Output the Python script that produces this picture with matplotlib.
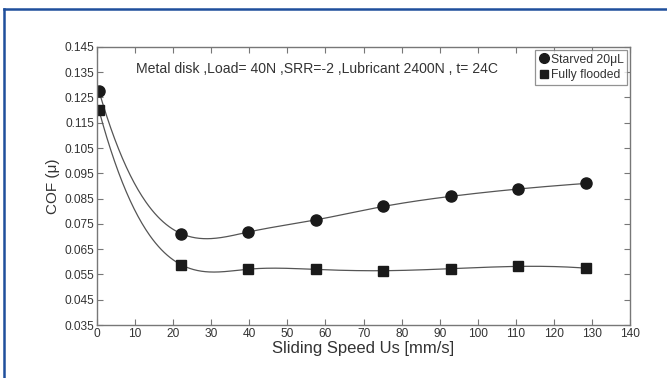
import numpy as np
import matplotlib
matplotlib.use("Agg")
import matplotlib.pyplot as plt
from matplotlib.lines import Line2D

plt.rcParams['font.family'] = ['Liberation Sans', 'DejaVu Sans']

speed = [0.6, 22.1, 39.8, 57.5, 75.2, 92.9, 110.6, 128.3]
cof_starved = [0.1275, 0.0712, 0.0718, 0.0766, 0.0819, 0.0859, 0.0888, 0.0910]
cof_flooded = [0.1199, 0.0589, 0.0571, 0.0570, 0.0565, 0.0573, 0.0582, 0.0575]
xticks = list(range(0, 141, 10))
yticks = [0.035, 0.045, 0.055, 0.065, 0.075, 0.085, 0.095, 0.105, 0.115, 0.125, 0.135, 0.145]
label_starved = "Starved 20μL"
label_flooded = "Fully flooded"
annotation = "Metal disk ,Load= 40N ,SRR=-2 ,Lubricant 2400N , t= 24C"


def spline_nak(x, y, xs):
    """Cubic spline with not-a-knot end conditions (MATLAB 'spline')."""
    x = np.asarray(x, float); y = np.asarray(y, float)
    n = len(x); h = np.diff(x)
    A = np.zeros((n, n)); b = np.zeros(n)
    for i in range(1, n - 1):
        A[i, i - 1] = h[i - 1]; A[i, i] = 2 * (h[i - 1] + h[i]); A[i, i + 1] = h[i]
        b[i] = 3 * ((y[i + 1] - y[i]) / h[i] - (y[i] - y[i - 1]) / h[i - 1])
    A[0, 0] = h[1]; A[0, 1] = -(h[0] + h[1]); A[0, 2] = h[0]
    A[-1, -3] = h[-1]; A[-1, -2] = -(h[-2] + h[-1]); A[-1, -1] = h[-2]
    c = np.linalg.solve(A, b)
    bb = (y[1:] - y[:-1]) / h - h * (2 * c[:-1] + c[1:]) / 3
    d = (c[1:] - c[:-1]) / (3 * h)
    idx = np.clip(np.searchsorted(x, xs) - 1, 0, n - 2)
    dx = xs - x[idx]
    return y[idx] + bb[idx] * dx + c[idx] * dx ** 2 + d[idx] * dx ** 3


fig = plt.figure(figsize=(6.67, 3.78), dpi=100)
ax = fig.add_axes([0.145, 0.140, 0.800, 0.736])

xs = np.linspace(speed[0], speed[-1], 500)
ax.plot(xs, spline_nak(speed, cof_starved, xs), color='#555555', lw=0.9)
ax.plot(xs, spline_nak(speed, cof_flooded, xs), color='#555555', lw=0.9)
ax.plot(speed, cof_starved, 'o', color='#1a1a1a', ms=8, ls='none')
ax.plot(speed, cof_flooded, 's', color='#1a1a1a', ms=7, ls='none')

ax.set_xlim(0, 140)
ax.set_ylim(0.035, 0.145)
ax.set_xticks(xticks)
ax.set_yticks(yticks)
ax.set_xticklabels([str(t) for t in xticks])
ax.set_yticklabels([f"{t:.3f}" for t in yticks])
ax.tick_params(direction='in', top=True, right=True, length=4, width=0.8,
               color='#777777', labelsize=8.6, labelcolor='#333333', pad=2)
for s in ax.spines.values():
    s.set_color('#777777')
    s.set_linewidth(1.0)

ax.set_xlabel("Sliding Speed Us [mm/s]", fontsize=12, color='#333333', labelpad=1)
ax.set_ylabel("COF (μ)", fontsize=11, color='#333333', labelpad=3)

ax.text(0.073, 0.922, annotation, transform=ax.transAxes, fontsize=10.1,
        color='#333333', va='center', ha='left')

handles = [Line2D([], [], marker='o', color='#1a1a1a', ls='none', ms=7),
           Line2D([], [], marker='s', color='#1a1a1a', ls='none', ms=6)]
leg = ax.legend(handles, [label_starved, label_flooded], loc='upper right',
                fontsize=8.7, frameon=True, fancybox=False, borderpad=0.3,
                handletextpad=0.1, handlelength=0.9, labelspacing=0.3,
                borderaxespad=0.25)
leg.get_frame().set_edgecolor('#777777')
leg.get_frame().set_linewidth(0.9)
for t in leg.get_texts():
    t.set_color('#333333')

# blue frame
fig.add_artist(Line2D([0.0055, 0.0055], [0.0, 1 - 9 / 378], transform=fig.transFigure,
                      color='#1f4f9c', lw=1.8))
fig.add_artist(Line2D([0.0055, 1.0], [1 - 9 / 378, 1 - 9 / 378], transform=fig.transFigure,
                      color='#1f4f9c', lw=1.8))

fig.savefig("out.png", dpi=100)
